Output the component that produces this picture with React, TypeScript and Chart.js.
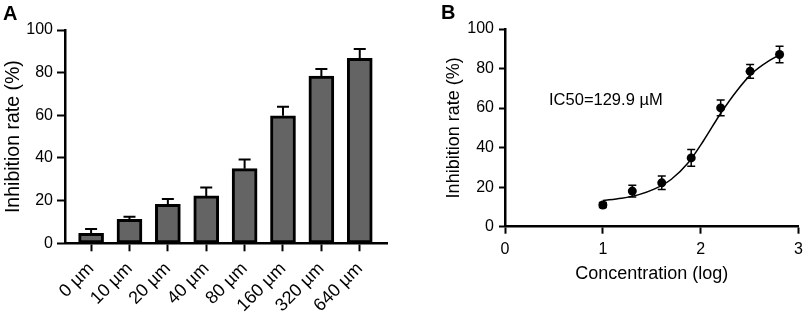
import React, { useEffect, useRef } from "react";
import { Chart, registerables } from "chart.js";

Chart.register(...registerables);

const FONT = "'Liberation Sans', Arial, Helvetica, sans-serif";

// Panel A: bar chart
const doseLabels = ["0 µm", "10 µm", "20 µm", "40 µm", "80 µm", "160 µm", "320 µm", "640 µm"];
const barValues = [4.7, 11.2, 18.3, 22.2, 35.0, 59.8, 78.4, 86.7];
const barErrors = [2.0, 1.3, 2.5, 4.0, 4.3, 4.2, 3.3, 4.4];

// Panel B: dose-response
const logConc = [1.0, 1.301, 1.602, 1.903, 2.204, 2.505, 2.806];
const meanRate = [11.0, 18.0, 22.2, 34.8, 60.1, 78.6, 87.1];
const sdRate = [1.3, 3.0, 3.4, 4.2, 4.0, 3.5, 4.2];

// fitted curve
const fitLogX = [1.0, 1.19, 1.36, 1.53, 1.7, 1.87, 2.03, 2.2, 2.37, 2.53, 2.7, 2.81];
const fitRate = [13.2, 14.4, 16.1, 19.1, 24.0, 32.2, 43.6, 57.0, 68.8, 77.8, 84.0, 87.0];

const ic50Label = "IC50=129.9 µM";
const yAxisTitle = "Inhibition rate (%)";
const xAxisTitleB = "Concentration (log)";

const barErrorPlugin = {
  id: "barErrors",
  afterDatasetsDraw(chart: any) {
    const { ctx, scales } = chart;
    const x = scales.x, y = scales.y;
    ctx.save();
    ctx.strokeStyle = "#000";
    ctx.lineWidth = 2;
    barValues.forEach((v, i) => {
      const px = x.getPixelForValue(i);
      const base = y.getPixelForValue(v);
      const top = y.getPixelForValue(v + barErrors[i]);
      ctx.beginPath();
      ctx.moveTo(px, base);
      ctx.lineTo(px, top);
      ctx.moveTo(px - 6, top);
      ctx.lineTo(px + 6, top);
      ctx.stroke();
    });
    ctx.restore();
  },
};

const pointErrorPlugin = {
  id: "pointErrors",
  afterDatasetsDraw(chart: any) {
    const { ctx, scales } = chart;
    const x = scales.x, y = scales.y;
    ctx.save();
    ctx.strokeStyle = "#000";
    ctx.lineWidth = 1.5;
    logConc.forEach((c, i) => {
      const px = x.getPixelForValue(c);
      const lo = y.getPixelForValue(meanRate[i] - sdRate[i]);
      const hi = y.getPixelForValue(meanRate[i] + sdRate[i]);
      ctx.beginPath();
      ctx.moveTo(px, lo);
      ctx.lineTo(px, hi);
      ctx.moveTo(px - 4, lo);
      ctx.lineTo(px + 4, lo);
      ctx.moveTo(px - 4, hi);
      ctx.lineTo(px + 4, hi);
      ctx.stroke();
    });
    // IC50 annotation
    ctx.fillStyle = "#000";
    ctx.font = `16.5px ${FONT}`;
    ctx.textAlign = "left";
    ctx.textBaseline = "middle";
    ctx.fillText(ic50Label, x.getPixelForValue(0.45), y.getPixelForValue(64));
    ctx.restore();
  },
};

const axisCommon = {
  grid: {
    display: true,
    drawOnChartArea: false,
    drawTicks: true,
    tickLength: 8,
    tickWidth: 2,
    tickColor: "#000",
    offset: false,
  },
  border: { display: true, color: "#000", width: 2.5 },
};

function BarPanel() {
  const ref = useRef<HTMLCanvasElement | null>(null);
  useEffect(() => {
    if (!ref.current) return;
    const chart = new Chart(ref.current, {
      type: "bar",
      data: {
        datasets: [
          {
            data: barValues.map((v, i) => ({ x: i, y: v })),
            backgroundColor: "#646464",
            borderColor: "#000",
            borderWidth: 3,
            borderSkipped: false,
            barThickness: 25,
          } as any,
        ],
      },
      options: {
        animation: false,
        responsive: false,
        layout: { padding: { top: 30, right: 43, bottom: 0, left: 0 } },
        plugins: { legend: { display: false }, tooltip: { enabled: false } },
        scales: {
          x: {
            type: "linear",
            min: -0.68,
            max: 7.71,
            offset: false,
            ...axisCommon,
            ticks: {
              stepSize: 1,
              includeBounds: false,
              autoSkip: false,
              maxRotation: 45,
              minRotation: 45,
              padding: 7,
              color: "#000",
              font: { family: FONT, size: 18 },
              callback: (v: any) => (Number.isInteger(v) ? doseLabels[v] ?? "" : ""),
            },
            afterFit: (s: any) => {
              s.height = 318 - 243.3;
            },
          } as any,
          y: {
            type: "linear",
            min: 0,
            max: 100,
            ...axisCommon,
            ticks: {
              stepSize: 20,
              padding: 4,
              color: "#000",
              font: { family: FONT, size: 16 },
            },
            title: {
              display: true,
              text: yAxisTitle,
              color: "#000",
              font: { family: FONT, size: 19.5 },
              padding: { top: 2.3, bottom: 0 },
            },
            afterFit: (s: any) => {
              s.width = 65;
            },
          } as any,
        },
      },
      plugins: [barErrorPlugin],
    });
    return () => chart.destroy();
  }, []);
  return <canvas ref={ref} width={430} height={318} style={{ position: "absolute", left: 0, top: 0, width: 430, height: 318 }} />;
}

function CurvePanel() {
  const ref = useRef<HTMLCanvasElement | null>(null);
  useEffect(() => {
    if (!ref.current) return;
    const chart = new Chart(ref.current, {
      type: "scatter",
      data: {
        datasets: [
          {
            data: fitLogX.map((x, i) => ({ x, y: fitRate[i] })),
            showLine: true,
            borderColor: "#000",
            borderWidth: 1.5,
            pointRadius: 0,
            cubicInterpolationMode: "monotone",
          } as any,
          {
            data: logConc.map((x, i) => ({ x, y: meanRate[i] })),
            pointRadius: 4.5,
            backgroundColor: "#000",
            borderWidth: 0,
          } as any,
        ],
      },
      options: {
        animation: false,
        responsive: false,
        layout: { padding: { top: 29, right: 5.7, bottom: 0, left: 0 } },
        plugins: { legend: { display: false }, tooltip: { enabled: false } },
        scales: {
          x: {
            type: "linear",
            min: 0,
            max: 3,
            ...axisCommon,
            grid: { ...axisCommon.grid, tickLength: 7 },
            ticks: {
              stepSize: 1,
              padding: 6,
              color: "#000",
              font: { family: FONT, size: 16 },
            },
            title: {
              display: true,
              text: xAxisTitleB,
              color: "#000",
              font: { family: FONT, size: 18 },
              padding: { top: 0, bottom: 33 },
            },
            afterFit: (s: any) => {
              s.height = 318 - 226.7;
            },
          } as any,
          y: {
            type: "linear",
            min: 0,
            max: 100,
            ...axisCommon,
            grid: { ...axisCommon.grid, tickLength: 6 },
            ticks: {
              stepSize: 20,
              padding: 5,
              color: "#000",
              font: { family: FONT, size: 16 },
            },
            title: {
              display: true,
              text: yAxisTitle,
              color: "#000",
              font: { family: FONT, size: 18 },
              padding: { top: 3, bottom: 0 },
            },
            afterFit: (s: any) => {
              s.width = 65;
            },
          } as any,
        },
      },
      plugins: [pointErrorPlugin],
    });
    return () => chart.destroy();
  }, []);
  return <canvas ref={ref} width={369} height={318} style={{ position: "absolute", left: 440, top: 0, width: 369, height: 318 }} />;
}

export default function App() {
  const letter: React.CSSProperties = {
    position: "absolute",
    fontFamily: FONT,
    fontWeight: "bold",
    fontSize: 20,
    lineHeight: "20px",
    color: "#000",
  };
  return (
    <div style={{ position: "absolute", left: 0, top: 0, width: 809, height: 318, background: "#fff", overflow: "hidden" }}>
      <BarPanel />
      <CurvePanel />
      <div style={{ ...letter, left: 3, top: 2.5 }}>A</div>
      <div style={{ ...letter, left: 441, top: 1.5 }}>B</div>
    </div>
  );
}
